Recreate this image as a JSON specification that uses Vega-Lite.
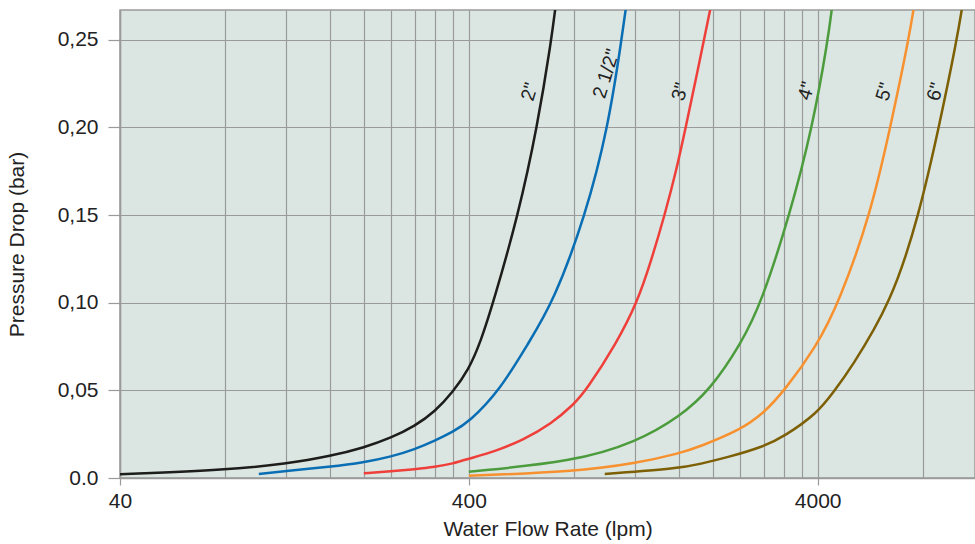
{
  "$schema": "https://vega.github.io/schema/vega-lite/v6.json",
  "width": 855,
  "height": 468,
  "autosize": {"type": "none"},
  "padding": {"left": 120, "top": 10, "right": 0, "bottom": 66},
  "background": "white",
  "config": {
    "view": {"fill": "#dbe6e2", "stroke": "#9a9a9a", "strokeWidth": 1.5},
    "font": "Liberation Sans"
  },
  "datasets": {
    "curves": [
      {"size": "2\"", "flow": 40, "dp": 0.0021},
      {"size": "2\"", "flow": 82, "dp": 0.0046},
      {"size": "2\"", "flow": 120, "dp": 0.0082},
      {"size": "2\"", "flow": 160, "dp": 0.0124},
      {"size": "2\"", "flow": 200, "dp": 0.0173},
      {"size": "2\"", "flow": 240, "dp": 0.0230},
      {"size": "2\"", "flow": 280, "dp": 0.0296},
      {"size": "2\"", "flow": 320, "dp": 0.0379},
      {"size": "2\"", "flow": 360, "dp": 0.0490},
      {"size": "2\"", "flow": 400, "dp": 0.0620},
      {"size": "2\"", "flow": 432, "dp": 0.0775},
      {"size": "2\"", "flow": 470, "dp": 0.100},
      {"size": "2\"", "flow": 554, "dp": 0.150},
      {"size": "2\"", "flow": 628, "dp": 0.200},
      {"size": "2\"", "flow": 690, "dp": 0.250},
      {"size": "2\"", "flow": 712, "dp": 0.272},
      {"size": "2 1/2\"", "flow": 100, "dp": 0.0023},
      {"size": "2 1/2\"", "flow": 120, "dp": 0.0040},
      {"size": "2 1/2\"", "flow": 160, "dp": 0.0064},
      {"size": "2 1/2\"", "flow": 200, "dp": 0.0089},
      {"size": "2 1/2\"", "flow": 240, "dp": 0.0122},
      {"size": "2 1/2\"", "flow": 280, "dp": 0.0164},
      {"size": "2 1/2\"", "flow": 320, "dp": 0.0213},
      {"size": "2 1/2\"", "flow": 360, "dp": 0.0264},
      {"size": "2 1/2\"", "flow": 400, "dp": 0.0318},
      {"size": "2 1/2\"", "flow": 491, "dp": 0.050},
      {"size": "2 1/2\"", "flow": 592, "dp": 0.0769},
      {"size": "2 1/2\"", "flow": 698, "dp": 0.100},
      {"size": "2 1/2\"", "flow": 865, "dp": 0.150},
      {"size": "2 1/2\"", "flow": 1003, "dp": 0.200},
      {"size": "2 1/2\"", "flow": 1096, "dp": 0.250},
      {"size": "2 1/2\"", "flow": 1135, "dp": 0.272},
      {"size": "3\"", "flow": 200, "dp": 0.0027},
      {"size": "3\"", "flow": 240, "dp": 0.0038},
      {"size": "3\"", "flow": 280, "dp": 0.0050},
      {"size": "3\"", "flow": 320, "dp": 0.0063},
      {"size": "3\"", "flow": 360, "dp": 0.0082},
      {"size": "3\"", "flow": 400, "dp": 0.0110},
      {"size": "3\"", "flow": 480, "dp": 0.0155},
      {"size": "3\"", "flow": 572, "dp": 0.0217},
      {"size": "3\"", "flow": 690, "dp": 0.0310},
      {"size": "3\"", "flow": 800, "dp": 0.0420},
      {"size": "3\"", "flow": 868, "dp": 0.050},
      {"size": "3\"", "flow": 1060, "dp": 0.0769},
      {"size": "3\"", "flow": 1215, "dp": 0.100},
      {"size": "3\"", "flow": 1335, "dp": 0.1244},
      {"size": "3\"", "flow": 1457, "dp": 0.150},
      {"size": "3\"", "flow": 1575, "dp": 0.1758},
      {"size": "3\"", "flow": 1674, "dp": 0.200},
      {"size": "3\"", "flow": 1797, "dp": 0.229},
      {"size": "3\"", "flow": 1990, "dp": 0.272},
      {"size": "4\"", "flow": 400, "dp": 0.0036},
      {"size": "4\"", "flow": 800, "dp": 0.0093},
      {"size": "4\"", "flow": 1210, "dp": 0.0205},
      {"size": "4\"", "flow": 1609, "dp": 0.035},
      {"size": "4\"", "flow": 1962, "dp": 0.050},
      {"size": "4\"", "flow": 2417, "dp": 0.0769},
      {"size": "4\"", "flow": 2759, "dp": 0.100},
      {"size": "4\"", "flow": 3325, "dp": 0.150},
      {"size": "4\"", "flow": 3864, "dp": 0.200},
      {"size": "4\"", "flow": 4282, "dp": 0.250},
      {"size": "4\"", "flow": 4420, "dp": 0.272},
      {"size": "5\"", "flow": 400, "dp": 0.0013},
      {"size": "5\"", "flow": 800, "dp": 0.0036},
      {"size": "5\"", "flow": 1210, "dp": 0.0084},
      {"size": "5\"", "flow": 1609, "dp": 0.0141},
      {"size": "5\"", "flow": 1837, "dp": 0.0179},
      {"size": "5\"", "flow": 2400, "dp": 0.0274},
      {"size": "5\"", "flow": 2800, "dp": 0.0369},
      {"size": "5\"", "flow": 3216, "dp": 0.050},
      {"size": "5\"", "flow": 3965, "dp": 0.075},
      {"size": "5\"", "flow": 4600, "dp": 0.100},
      {"size": "5\"", "flow": 5663, "dp": 0.150},
      {"size": "5\"", "flow": 6462, "dp": 0.200},
      {"size": "5\"", "flow": 7291, "dp": 0.250},
      {"size": "5\"", "flow": 7600, "dp": 0.272},
      {"size": "6\"", "flow": 981, "dp": 0.0023},
      {"size": "6\"", "flow": 1609, "dp": 0.0055},
      {"size": "6\"", "flow": 1837, "dp": 0.0080},
      {"size": "6\"", "flow": 2210, "dp": 0.0118},
      {"size": "6\"", "flow": 2800, "dp": 0.0179},
      {"size": "6\"", "flow": 3200, "dp": 0.0236},
      {"size": "6\"", "flow": 4000, "dp": 0.037},
      {"size": "6\"", "flow": 4475, "dp": 0.050},
      {"size": "6\"", "flow": 4938, "dp": 0.0615},
      {"size": "6\"", "flow": 6508, "dp": 0.100},
      {"size": "6\"", "flow": 7808, "dp": 0.150},
      {"size": "6\"", "flow": 8905, "dp": 0.200},
      {"size": "6\"", "flow": 10025, "dp": 0.250},
      {"size": "6\"", "flow": 10450, "dp": 0.272}
    ],
    "labels": [
      {"size": "2\"", "flow": 598, "dp": 0.2203},
      {"size": "2 1/2\"", "flow": 992, "dp": 0.2306},
      {"size": "3\"", "flow": 1615, "dp": 0.2203},
      {"size": "4\"", "flow": 3721, "dp": 0.2208},
      {"size": "5\"", "flow": 6224, "dp": 0.2203},
      {"size": "6\"", "flow": 8711, "dp": 0.2203}
    ]
  },
  "layer": [
    {
      "data": {"name": "curves"},
      "mark": {"type": "line", "interpolate": "basis", "strokeWidth": 2.5, "clip": true},
      "encoding": {
        "x": {
          "field": "flow", "type": "quantitative",
          "scale": {"type": "log", "domain": [40, 11300], "nice": false},
          "axis": {
            "title": "Water Flow Rate (lpm)",
            "values": [40, 80, 120, 160, 200, 240, 280, 320, 360, 400, 800, 1200, 1600, 2000, 2400, 2800, 3200, 3600, 4000, 8000],
            "labelExpr": "datum.value == 40 || datum.value == 400 || datum.value == 4000 ? format(datum.value, 'd') : ''",
            "grid": true, "gridColor": "#9a9a9a", "gridWidth": 1.2, "gridOpacity": 1,
            "domainColor": "#9a9a9a", "domainWidth": 1.5,
            "tickColor": {"condition": {"test": "datum.value == 40 || datum.value == 400 || datum.value == 4000", "value": "#9a9a9a"}, "value": "transparent"},
            "tickSize": 7, "tickWidth": 1.2,
            "labelFontSize": 21, "labelColor": "#222222", "labelPadding": 5, "labelFlush": false,
            "titleFontSize": 21, "titleFontWeight": "normal", "titleColor": "#222222", "titlePadding": 7
          }
        },
        "y": {
          "field": "dp", "type": "quantitative",
          "scale": {"domain": [0, 0.267], "nice": false},
          "axis": {
            "title": "Pressure Drop (bar)",
            "values": [0, 0.05, 0.1, 0.15, 0.2, 0.25],
            "labelExpr": "datum.value == 0 ? '0.0' : replace(format(datum.value, '.2f'), '.', ',')",
            "grid": true, "gridColor": "#9a9a9a", "gridWidth": 1.2, "gridOpacity": 1,
            "domainColor": "#9a9a9a", "domainWidth": 1.5,
            "tickColor": "#9a9a9a", "tickSize": 12, "tickWidth": 1.2,
            "labelFontSize": 21, "labelColor": "#222222", "labelPadding": 10,
            "titleFontSize": 21, "titleFontWeight": "normal", "titleColor": "#222222", "titlePadding": 30
          }
        },
        "color": {
          "field": "size", "type": "nominal",
          "scale": {"domain": ["2\"", "2 1/2\"", "3\"", "4\"", "5\"", "6\""], "range": ["#1d1d1b", "#0a6eb4", "#ef3f3a", "#4c9c3d", "#f7912f", "#7d5f05"]},
          "legend": null
        }
      }
    },
    {
      "data": {"name": "labels"},
      "mark": {"type": "text", "angle": 287, "fontSize": 19.5, "color": "#222222", "align": "center", "baseline": "middle"},
      "encoding": {
        "x": {"field": "flow", "type": "quantitative"},
        "y": {"field": "dp", "type": "quantitative"},
        "text": {"field": "size"}
      }
    }
  ]
}
